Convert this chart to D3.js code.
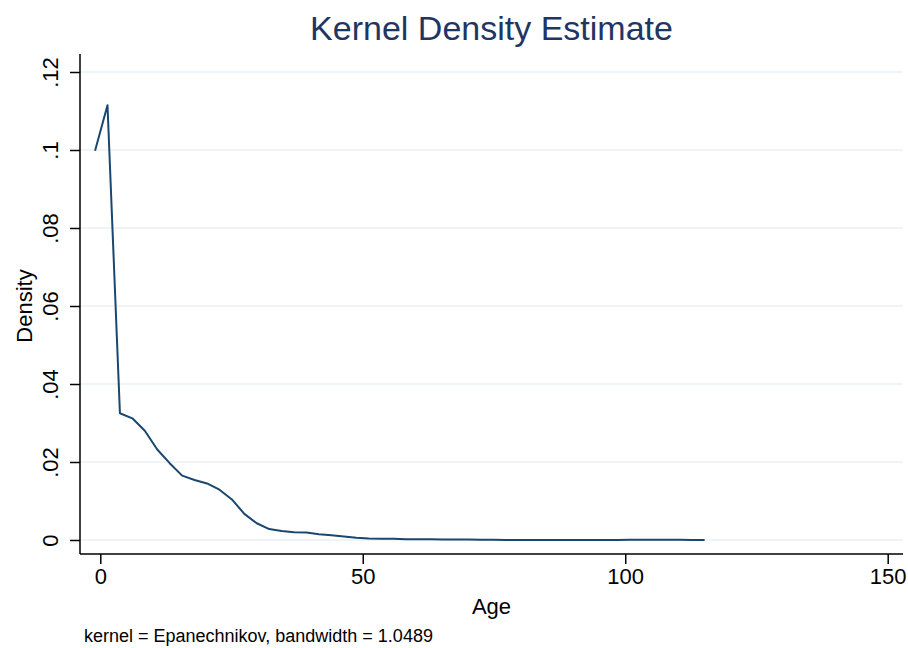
<!DOCTYPE html>
<html>
<head>
<meta charset="utf-8">
<title>Kernel Density Estimate</title>
<script src="https://cdn.jsdelivr.net/npm/d3@7"></script>
<style>
  body { margin: 0; background: #fff; }
  svg { display: block; font-family: "Liberation Sans", Arial, sans-serif; }
</style>
</head>
<body>
<div id="chart"></div>
<script>
// kernel density points (age, density)
var ages = [-1.00, 1.37, 3.74, 6.11, 8.48, 10.85, 13.22, 15.59, 17.96, 20.33,
            22.70, 25.07, 27.44, 29.81, 32.18, 34.55, 36.92, 39.29, 41.66, 44.03,
            46.40, 48.77, 51.14, 53.51, 55.88, 58.25, 60.62, 62.99, 65.36, 67.73,
            70.10, 72.47, 74.84, 77.21, 79.58, 81.95, 84.32, 86.69, 89.06, 91.43,
            93.80, 96.17, 98.54, 100.91, 103.28, 105.65, 108.02, 110.39, 112.76, 115.13];
var density = [0.0998, 0.1115, 0.0325, 0.0312, 0.0280, 0.0232, 0.0197, 0.0165, 0.0154, 0.0145,
               0.0129, 0.0104, 0.0067, 0.0043, 0.0028, 0.0023, 0.0020, 0.0019, 0.0015, 0.0012,
               0.0009, 0.0006, 0.0004, 0.0003, 0.0003, 0.0002, 0.0002, 0.0002, 0.0001, 0.0001,
               0.0001, 0.00005, 0.00004, 0.00003, 0.00003, 0.00003, 0.00003, 0.00003, 0.00003, 0.00003,
               0.00003, 0.00003, 0.00003, 0.00004, 0.00004, 0.00004, 0.00004, 0.00004, 0.00003, 0.00002];
var xTicks = [0, 50, 100, 150];
var yTicks = [0, 0.02, 0.04, 0.06, 0.08, 0.1, 0.12];
var yTickLabels = ["0", ".02", ".04", ".06", ".08", ".1", ".12"];

var width = 908, height = 648;
var plotLeft = 80, plotRight = 903, axisY = 554;

var svg = d3.select("#chart").append("svg")
    .attr("width", width)
    .attr("height", height);

var x = d3.scaleLinear().domain([0, 150]).range([100.3, 887.7]);
var y = d3.scaleLinear().domain([0, 0.12]).range([540, 72]);

// gridlines
svg.append("g").selectAll("line")
    .data(yTicks)
  .enter().append("line")
    .attr("x1", plotLeft).attr("x2", plotRight)
    .attr("y1", function(d) { return y(d); })
    .attr("y2", function(d) { return y(d); })
    .attr("stroke", "#eaf2f3")
    .attr("stroke-width", 1.6);

// density line
var pts = ages.map(function(a, i) { return [a, density[i]]; });
svg.append("path")
    .datum(pts)
    .attr("fill", "none")
    .attr("stroke", "#1a476f")
    .attr("stroke-width", 2)
    .attr("stroke-linejoin", "round")
    .attr("d", d3.line()
        .x(function(d) { return x(d[0]); })
        .y(function(d) { return y(d[1]); }));

// x axis
var xAxis = svg.append("g")
    .attr("transform", "translate(0," + axisY + ")")
    .call(d3.axisBottom(x).tickValues(xTicks).tickSize(10).tickSizeOuter(0).tickPadding(4));
xAxis.select(".domain").attr("d", "M" + plotLeft + ",0H" + plotRight);
xAxis.selectAll("line, path").attr("stroke", "#000").attr("stroke-width", 1.5);
xAxis.selectAll("text")
    .attr("font-size", "22px")
    .attr("fill", "#000")
    .attr("font-family", "Liberation Sans, Arial, sans-serif");

// y axis
var yAxis = svg.append("g")
    .attr("transform", "translate(" + plotLeft + ",0)")
    .call(d3.axisLeft(y).tickValues(yTicks).tickSize(10).tickSizeOuter(0)
        .tickFormat(function(d, i) { return yTickLabels[i]; }));
yAxis.select(".domain").attr("d", "M0," + 54 + "V" + axisY);
yAxis.selectAll("line, path").attr("stroke", "#000").attr("stroke-width", 1.5);
yAxis.selectAll("text")
    .attr("font-size", "22px")
    .attr("fill", "#000")
    .attr("font-family", "Liberation Sans, Arial, sans-serif")
    .attr("x", null).attr("dy", null)
    .attr("text-anchor", "middle")
    .attr("transform", "translate(-22,0) rotate(-90)");

// titles
svg.append("text")
    .attr("x", (plotLeft + plotRight) / 2).attr("y", 39.5)
    .attr("text-anchor", "middle")
    .attr("font-size", "34px")
    .attr("fill", "#1f3564")
    .text("Kernel Density Estimate");

svg.append("text")
    .attr("x", (plotLeft + plotRight) / 2).attr("y", 614)
    .attr("text-anchor", "middle")
    .attr("font-size", "22px")
    .text("Age");

svg.append("text")
    .attr("transform", "translate(32," + y(0.06) + ") rotate(-90)")
    .attr("text-anchor", "middle")
    .attr("font-size", "22px")
    .text("Density");

svg.append("text")
    .attr("x", 84).attr("y", 641.5)
    .attr("font-size", "18px")
    .text("kernel = Epanechnikov, bandwidth = 1.0489");
</script>
</body>
</html>
